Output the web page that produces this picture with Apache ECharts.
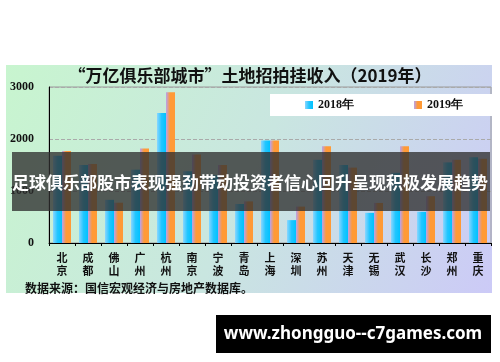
<!DOCTYPE html>
<html><head><meta charset="utf-8">
<script src="https://cdn.jsdelivr.net/npm/echarts@6/dist/echarts.min.js"></script>
<style>html,body{margin:0;padding:0;background:#fff}#c{width:500px;height:362px}</style>
</head><body><div id="c"></div>
<script>
const categories = ['北京','成都','佛山','广州','杭州','南京','宁波','青岛','上海','深圳','苏州','天津','无锡','武汉','长沙','郑州','重庆'];
const values2018 = [1680,1500,830,1410,2500,1380,1300,750,1970,440,1600,1500,580,1350,600,1550,1650];
const values2019 = [1770,1520,775,1815,2900,1700,1500,800,1970,700,1860,1450,770,1860,900,1600,1620];
const seriesNames = ['2018年','2019年'];
const yTicks = [0,1000,2000,3000];
const titleText = '“万亿俱乐部城市”土地招拍挂收入（2019年）';
const sourceText = '数据来源：国信宏观经济与房地产数据库。';
const bannerText = '足球俱乐部股市表现强劲带动投资者信心回升呈现积极发展趋势';
const siteText = 'www.zhongguo--c7games.com';

const chart = echarts.init(document.getElementById('c'));
const cjk = '"Noto Sans CJK SC", sans-serif';
const serif = '"Liberation Serif", "DejaVu Serif", serif';
const blue = new echarts.graphic.LinearGradient(0,0,1,0,[{offset:0,color:'#8ad6ff'},{offset:0.5,color:'#22c6ff'},{offset:1,color:'#00c2ff'}]);
const orange = new echarts.graphic.LinearGradient(0,0,1,0,[{offset:0,color:'#b7a2f0'},{offset:0.45,color:'#ff9a36'},{offset:1,color:'#ff9a36'}]);
chart.setOption({
  backgroundColor:'#fff',
  animation:false,
  title:{text:titleText,left:'center',top:62,textStyle:{fontSize:17,fontWeight:'bold',color:'#111',fontFamily:cjk}},
  legend:{data:seriesNames,left:270,top:94,backgroundColor:'#fff',padding:[5,30,5,35],itemGap:60,itemWidth:8,itemHeight:8,icon:'rect',
    textStyle:{fontSize:12,fontWeight:'bold',color:'#111',fontFamily:serif}},
  grid:{left:49,right:9,top:87,bottom:119,show:true,borderColor:'#9a9a9a',borderWidth:1,backgroundColor:'transparent'},
  xAxis:{type:'category',data:categories,
    axisLine:{lineStyle:{color:'#000',width:1}},
    axisTick:{show:true,length:3,lineStyle:{color:'#000'}},
    axisLabel:{interval:0,margin:8,fontSize:11,lineHeight:13,fontWeight:'bold',color:'#111',fontFamily:cjk,formatter:v=>v.split('').join('\n')}},
  yAxis:{type:'value',min:yTicks[0],max:yTicks[yTicks.length-1],interval:1000,
    axisLine:{show:true,lineStyle:{color:'#000',width:1}},
    axisTick:{show:false},
    axisLabel:{margin:15,fontSize:12,fontWeight:'bold',color:'#111',fontFamily:serif,formatter:v=>String(v)},
    splitLine:{show:true,lineStyle:{type:'dashed',color:'#aaaaaa'}}},
  series:[
    {name:seriesNames[0],type:'bar',data:values2018,barWidth:9,barGap:'0%',itemStyle:{color:blue}},
    {name:seriesNames[1],type:'bar',data:values2019,barWidth:9,barGap:'0%',itemStyle:{color:orange}}
  ],
  graphic:[
    {type:'rect',z:-10,shape:{x:6,y:65,width:486,height:228},silent:true,
      style:{fill:new echarts.graphic.LinearGradient(0,0,1,1,[{offset:0,color:'#c8f5cf'},{offset:0.5,color:'#c9e6e0'},{offset:1,color:'#cccaf7'}])}},
    {type:'text',z:10,left:25,top:282,style:{text:sourceText,font:'bold 12px '+cjk,fill:'#111'}},
    {type:'rect',z:100,shape:{x:12,y:152,width:478,height:59},style:{fill:'rgba(48,48,48,0.78)'}},
    {type:'text',z:101,x:250,y:183,style:{text:bannerText,font:'bold 17px '+cjk,fill:'#fff',align:'center',verticalAlign:'middle'}},
    {type:'rect',z:100,shape:{x:216,y:315,width:275,height:38},style:{fill:'#000'}},
    {type:'text',z:101,x:353,y:334,style:{text:siteText,font:'bold 17px "Noto Sans", sans-serif',fill:'#fff',align:'center',verticalAlign:'middle'}}
  ]
});
</script></body></html>
